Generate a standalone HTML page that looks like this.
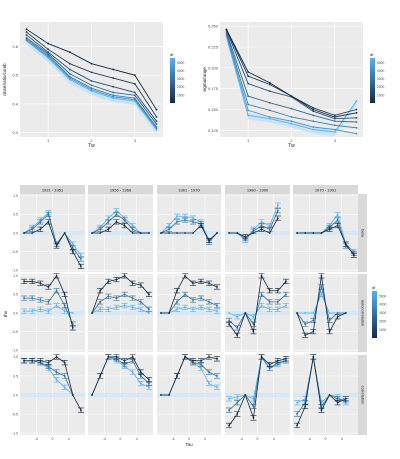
<!DOCTYPE html>
<html><head><meta charset="utf-8"><style>
html,body{margin:0;padding:0;background:#fff;}
svg{display:block;font-family:"Liberation Sans",sans-serif;}
</style></head><body>
<svg id="c" width="400" height="459" viewBox="0 0 400 459">
<defs>
<linearGradient id="lg" x1="0" y1="1" x2="0" y2="0"><stop offset="0" stop-color="#132B43"/><stop offset="1" stop-color="#56B1F7"/></linearGradient>
</defs>
</svg>
<script>
// ---- top charts data ----
const topX = [0.5,1,1.5,2,2.5,3,3.5];
const topXTicks = [1,2,3];
const leftYTicks = [0.3,0.4,0.5,0.6];
const rightYTicks = [0.125,0.15,0.175,0.2,0.225,0.25];
const leftSeries = [
 [0.66,0.61,0.58,0.54,0.52,0.50,0.38],
 [0.65,0.59,0.54,0.51,0.49,0.47,0.355],
 [0.64,0.58,0.52,0.48,0.46,0.44,0.34],
 [0.63,0.575,0.505,0.465,0.44,0.43,0.33],
 [0.625,0.57,0.495,0.455,0.43,0.42,0.32],
 [0.62,0.565,0.49,0.45,0.425,0.415,0.315],
 [0.62,0.56,0.485,0.445,0.42,0.41,0.31]
];
const rightSeries = [
 [0.246,0.195,0.182,0.166,0.150,0.141,0.146],
 [0.246,0.190,0.180,0.166,0.152,0.143,0.150],
 [0.245,0.181,0.172,0.165,0.148,0.139,0.140],
 [0.243,0.166,0.158,0.151,0.143,0.136,0.135],
 [0.241,0.156,0.149,0.141,0.136,0.131,0.128],
 [0.239,0.149,0.141,0.136,0.129,0.126,0.121],
 [0.237,0.143,0.139,0.133,0.126,0.123,0.160]
];
// ---- facet data ----
const facetX = [-7,-5,-3,-1,1,3,5,7];
const facetXTicks = [-4,0,4];
const facetYTicks = [-1,-0.5,0,0.5,1];
const facetCols = ["1931 - 1951","1956 - 1966","1961 - 1970","1980 - 1990","1970 - 1991"];
const facetRows = ["beta","autocorrelation","correlation"];
const row1Values = [
 [[0,0,0.1,0.3,-0.35,0,-0.5,-0.9],[0,0.1,0.3,0.5,-0.3,0,-0.4,-0.7],[0,0.15,0.35,0.55,-0.3,0,-0.3,-0.6]],
 [[0,0,0.1,0.3,0.2,0,0,0],[0,0.1,0.3,0.5,0.35,0.1,0,0],[0,0.15,0.4,0.6,0.4,0.2,0,0]],
 [[0,0,0,0,0,0.2,-0.2,0],[0,0.1,0.3,0.35,0.3,0.25,-0.25,0],[0,0.2,0.45,0.45,0.4,0.3,-0.2,0]],
 [[0,0,-0.1,0,0.1,0,0.4,null],[0,0,-0.15,0.05,0.2,0.1,0.6,null],[0,0,-0.2,0.1,0.3,0.2,0.75,null]],
 [[0,0,0,0,0.1,0.2,-0.3,-0.6],[0,0,0,0,0.15,0.35,-0.35,-0.55],[0,0,0,0,0.2,0.5,-0.3,-0.5]]
];
const row2Values = [
 [[0.85,0.85,0.8,0.7,1.0,0.5,-0.4,null],[0.4,0.4,0.35,0.3,0.6,0.2,-0.3,null],[0.05,0.05,0.1,0.05,0.2,0.05,0,null]],
 [[0,0.6,0.85,0.9,1.0,0.8,0.75,0.5],[0,0.3,0.45,0.4,0.5,0.4,0.3,0.1],[0,0.1,0.1,0.15,0.2,0.15,0.1,0]],
 [[0,0,0.6,1.0,0.8,0.85,0.8,0.7],[0,0,0.3,0.5,0.35,0.4,0.3,0.2],[0,0,0.1,0.15,0.1,0.15,0.1,0.05]],
 [[-0.3,-0.6,0,-0.5,1.0,0.6,0.6,0.85],[-0.2,-0.4,0,-0.3,0.5,0.3,0.3,0.5],[0,-0.1,0,-0.1,0.2,0.1,0.1,0.2]],
 [[0,-0.6,-0.5,1.0,-0.5,-0.1,0,null],[0,-0.3,-0.2,0.7,-0.2,0,0,null],[0,0,0,0.5,0,0,0,null]]
];
const row3Values = [
 [[0.9,0.9,0.9,0.85,1.0,0.85,0,-0.4],[0.9,0.9,0.85,0.75,0.6,0.5,0,null],[0.9,0.9,0.85,0.7,0.4,0.2,0,null]],
 [[0,0.5,1.0,1.0,0.9,1.0,0.6,0.4],[0,0.5,1.0,0.95,0.8,0.9,0.5,0.3],[0,0.5,1.0,0.9,0.75,0.6,0.3,0.2]],
 [[0,0,0.5,1.0,0.9,0.9,1.0,0.95],[0,0,0.5,1.0,0.85,0.8,0.6,0.5],[0,0,0.5,1.0,0.85,0.7,0.3,0.2]],
 [[-0.8,-0.5,0,-0.6,1.0,0.8,0.9,0.95],[-0.4,-0.2,0,-0.3,1.0,0.7,0.85,0.9],[-0.1,-0.05,0,-0.1,1.0,0.7,0.8,0.9]],
 [[-0.8,-0.3,1.0,-0.4,0,-0.2,-0.1,null],[-0.5,-0.2,1.0,-0.3,0,-0.1,-0.15,null],[-0.2,-0.1,1.0,-0.2,0,-0.05,-0.2,null]]
];
const legendTicks = ["1000","2000","3000","4000","5000"];

const svg = document.getElementById('c');
const NS = 'http://www.w3.org/2000/svg';
function mk(tag, attrs, parent){const e=document.createElementNS(NS,tag);for(const k in attrs)e.setAttribute(k,attrs[k]);(parent||svg).appendChild(e);return e;}
const seriesColors7 = ["#132B43","#1D3F5E","#27537A","#326896","#3C7EB3","#4895D1","#56B1F7"];
const seriesColors3 = ["#132B43","#3570A0","#56B1F7"];

function topChart(x0,x1,y0,y1,yMin,yMax,yTicks,fmt,series,name,title,yTitle,lx){
  const g=mk('g',{});
  
  
  const sx=v=>x0+(v-0.35)/(3.65-0.35)*(x1-x0);
  const sy=v=>y1-(v-yMin)/(yMax-yMin)*(y1-y0);
  const bg=mk('rect',{x:x0,y:y0,width:x1-x0,height:y1-y0,fill:'#EBEBEB'},g);
  
  yTicks.forEach(t=>{mk('line',{x1:x0,x2:x1,y1:sy(t),y2:sy(t),stroke:'#fff','stroke-width':0.6},g);
    const tx=mk('text',{x:x0-2,y:sy(t)+1.5,'font-size':4,'text-anchor':'end',fill:'#4D4D4D'},g);tx.textContent=fmt(t);
    });
  topXTicks.forEach(t=>{mk('line',{x1:sx(t),x2:sx(t),y1:y0,y2:y1,stroke:'#fff','stroke-width':0.6},g);
    const tx=mk('text',{x:sx(t),y:y1+5,'font-size':4,'text-anchor':'middle',fill:'#4D4D4D'},g);tx.textContent=t;
    });
  // ribbon
  const last=series[series.length-1];
  let rp='';topX.forEach((x,i)=>{rp+=(i?'L':'M')+sx(x)+','+(sy(last[i])+4);});
  for(let i=topX.length-1;i>=0;i--)rp+='L'+sx(topX[i])+','+(sy(last[i])-2);
  const rb=mk('path',{d:rp+'Z',fill:'#BFE0FA',opacity:0.8},g);
  
  for(let s=series.length-1;s>=0;s--){
    const vals=series[s];const c=seriesColors7[s];
    let d='';topX.forEach((x,i)=>{d+=(i?'L':'M')+sx(x)+','+sy(vals[i]);});
    const p=mk('path',{d:d,fill:'none',stroke:c,'stroke-width':0.9},g);
    
    topX.forEach((x,i)=>{const pt=mk('circle',{cx:sx(x),cy:sy(vals[i]),r:0.9,fill:c},g);
      });
  }
  const xt=mk('text',{x:(x0+x1)/2,y:y1+10,'font-size':5,'text-anchor':'middle',fill:'#222'},g);xt.textContent=title;
  
  const yt=mk('text',{x:0,y:0,'font-size':4.5,'text-anchor':'middle',fill:'#222',transform:`translate(${x0-14},${(y0+y1)/2}) rotate(-90)`},g);yt.textContent=yTitle;
  
  legend(lx,58,103,g);
}
function legend(x,ya,yb,parent){
  const g=mk('g',{},parent);
  
  const t=mk('text',{x:x,y:ya-2,'font-size':4,fill:'#222'},g);t.textContent='df';
  const r=mk('rect',{x:x,y:ya,width:5,height:yb-ya,fill:'url(#lg)'},g);
  
  legendTicks.forEach((lab,i)=>{const yy=yb-(i+1)*(yb-ya)/5.6;
    const tx=mk('text',{x:x+7,y:yy+1.3,'font-size':3.3,fill:'#4D4D4D'},g);tx.textContent=lab;
    });
}
topChart(20,163,22,137,0.285,0.685,leftYTicks,v=>v.toFixed(1),leftSeries,'rmse-chart','Tw','rmse/ratio/comb',170);
topChart(220,363,22,137,0.117,0.255,rightYTicks,v=>v.toFixed(3),rightSeries,'sigma-chart','Tw','sigma/range',370);

// facets
const colX=[[20,85],[88,153],[157,221],[225,290],[293,358]];
const rowY=[[194,272],[274,352],[355,435]];
const rowData=[row1Values,row2Values,row3Values];
colX.forEach((cx,c)=>{
  const st=mk('rect',{x:cx[0],y:185,width:cx[1]-cx[0],height:9,fill:'#D9D9D9'});
  
  const tt=mk('text',{x:(cx[0]+cx[1])/2,y:191.3,'font-size':4,'text-anchor':'middle',fill:'#1A1A1A'});tt.textContent=facetCols[c];
  
});
rowY.forEach((ry,r)=>{
  const st=mk('rect',{x:358,y:ry[0],width:9,height:ry[1]-ry[0],fill:'#D9D9D9'});
  
  const tt=mk('text',{x:0,y:0,'font-size':4,'text-anchor':'middle',fill:'#1A1A1A',transform:`translate(361.5,${(ry[0]+ry[1])/2}) rotate(90)`});tt.textContent=facetRows[r];
  
  colX.forEach((cx,c)=>{
    const sx=v=>cx[0]+(v+8)/16*(cx[1]-cx[0]);
    const sy=v=>ry[1]-(v+1.05)/2.1*(ry[1]-ry[0]);
    const g=mk('g',{});
    
    mk('rect',{x:cx[0],y:ry[0],width:cx[1]-cx[0],height:ry[1]-ry[0],fill:'#EBEBEB'},g);
    facetYTicks.forEach(t=>mk('line',{x1:cx[0],x2:cx[1],y1:sy(t),y2:sy(t),stroke:'#fff','stroke-width':0.5},g));
    facetXTicks.forEach(t=>mk('line',{x1:sx(t),x2:sx(t),y1:ry[0],y2:ry[1],stroke:'#fff','stroke-width':0.5},g));
    mk('rect',{x:cx[0],y:sy(0)-2,width:cx[1]-cx[0],height:4,fill:'#CDE6FA',opacity:0.7},g);
    const series=rowData[r][c];
    for(let s=series.length-1;s>=0;s--){
      const vals=series[s];const col=seriesColors3[s];
      let d='';let started=false;
      facetX.forEach((x,i)=>{if(vals[i]===null||vals[i]===undefined)return;d+=(started?'L':'M')+sx(x)+','+sy(vals[i]);started=true;});
      const p=mk('path',{d:d,fill:'none',stroke:col,'stroke-width':0.8},g);
      
      facetX.forEach((x,i)=>{const v=vals[i];if(v===null||v===undefined)return;
        if(v!==0){const e=0.06;
          const eb=mk('path',{d:`M${sx(x)},${sy(v+e)}L${sx(x)},${sy(v-e)}M${sx(x)-3},${sy(v+e)}L${sx(x)+3},${sy(v+e)}M${sx(x)-3},${sy(v-e)}L${sx(x)+3},${sy(v-e)}`,stroke:col,'stroke-width':0.6,fill:'none'},g);
          }
        const pt=mk('circle',{cx:sx(x),cy:sy(v),r:0.9,fill:col},g);
        });
    }
    if(c===0) facetYTicks.forEach(t=>{const tx=mk('text',{x:cx[0]-2,y:sy(t)+1.3,'font-size':3.5,'text-anchor':'end',fill:'#4D4D4D'});tx.textContent=t.toFixed(1);
      });
    if(r===2) facetXTicks.forEach(t=>{const tx=mk('text',{x:sx(t),y:ry[1]+5,'font-size':3.5,'text-anchor':'middle',fill:'#4D4D4D'});tx.textContent=t;
      });
  });
});
const xt=mk('text',{x:189,y:446,'font-size':4.5,'text-anchor':'middle',fill:'#222'});xt.textContent='Tau';

const yt=mk('text',{x:0,y:0,'font-size':4.5,'text-anchor':'middle',fill:'#222',transform:'translate(7,314) rotate(-90)'});yt.textContent='rho';

legend(372,291,338);
</script>
</body></html>
